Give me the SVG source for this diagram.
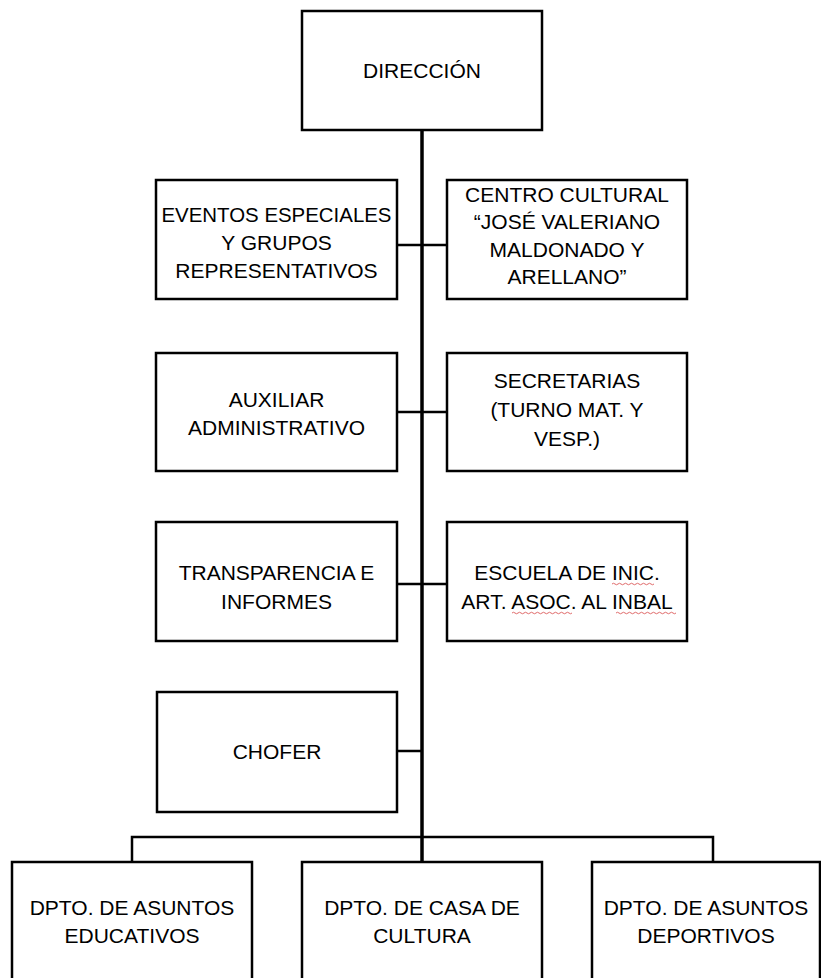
<svg xmlns="http://www.w3.org/2000/svg" width="821" height="978" viewBox="0 0 821 978">
<style>
.box{fill:#fff;stroke:#000;stroke-width:2.5}
.t{font-family:"Liberation Sans",Arial,sans-serif;font-size:21px;fill:#000;text-anchor:middle}
.c{fill:none;stroke:#000;stroke-width:2.5}
.main{fill:none;stroke:#000;stroke-width:3.5}
.sq{fill:none;stroke:#e06a6a;stroke-width:1}
</style>
<rect x="0" y="0" width="821" height="978" fill="#fff"/>
<g id="connectors">
<line class="main" x1="422" y1="130" x2="422" y2="862"/>
<line class="c" x1="397" y1="245" x2="447" y2="245"/>
<line class="c" x1="397" y1="412" x2="447" y2="412"/>
<line class="c" x1="397" y1="584" x2="447" y2="584"/>
<line class="c" x1="397" y1="751" x2="422" y2="751"/>
<polyline class="c" points="132,862 132,837 713,837 713,862"/>
</g>
<g id="direccion">
<rect class="box" x="302" y="11" width="240" height="119"/>
<text class="t" x="422" y="78">DIRECCIÓN</text>
</g>
<g id="eventos">
<rect class="box" x="156" y="180" width="241" height="119"/>
<text class="t" x="276.5" y="222" textLength="230" lengthAdjust="spacingAndGlyphs">EVENTOS ESPECIALES</text>
<text class="t" x="276.5" y="250">Y GRUPOS</text>
<text class="t" x="276.5" y="278">REPRESENTATIVOS</text>
</g>
<g id="centro">
<rect class="box" x="447" y="180" width="240" height="119"/>
<text class="t" x="567" y="202">CENTRO CULTURAL</text>
<text class="t" x="567" y="229">“JOSÉ VALERIANO</text>
<text class="t" x="567" y="257">MALDONADO Y</text>
<text class="t" x="567" y="284">ARELLANO”</text>
</g>
<g id="auxiliar">
<rect class="box" x="156" y="353" width="241" height="118"/>
<text class="t" x="276.5" y="407">AUXILIAR</text>
<text class="t" x="276.5" y="435">ADMINISTRATIVO</text>
</g>
<g id="secretarias">
<rect class="box" x="447" y="353" width="240" height="118"/>
<text class="t" x="567" y="388">SECRETARIAS</text>
<text class="t" x="567" y="417">(TURNO MAT. Y</text>
<text class="t" x="567" y="446">VESP.)</text>
</g>
<g id="transparencia">
<rect class="box" x="156" y="522" width="241" height="119"/>
<text class="t" x="276.5" y="580">TRANSPARENCIA E</text>
<text class="t" x="276.5" y="609">INFORMES</text>
</g>
<g id="escuela">
<rect class="box" x="447" y="522" width="240" height="119"/>
<text class="t" x="567" y="580">ESCUELA DE INIC.</text>
<text class="t" x="567" y="609">ART. ASOC. AL INBAL</text>
<path class="sq" d="M612 584 q1.5 -1.5 3 0 t3 0 t3 0 t3 0 t3 0 t3 0 t3 0 t3 0 t3 0 t3 0 t3 0 t3 0 t3 0 t3 0"/>
<path class="sq" d="M512 613 q1.5 -1.5 3 0 t3 0 t3 0 t3 0 t3 0 t3 0 t3 0 t3 0 t3 0 t3 0 t3 0 t3 0 t3 0 t3 0 t3 0 t3 0 t3 0 t3 0 t3 0 t3 0"/>
<path class="sq" d="M616 613 q1.5 -1.5 3 0 t3 0 t3 0 t3 0 t3 0 t3 0 t3 0 t3 0 t3 0 t3 0 t3 0 t3 0 t3 0 t3 0 t3 0 t3 0 t3 0 t3 0 t3 0 t3 0"/>
</g>
<g id="chofer">
<rect class="box" x="157" y="692" width="240" height="120"/>
<text class="t" x="277" y="759">CHOFER</text>
</g>
<g id="dpto-educativos">
<rect class="box" x="12" y="862" width="240" height="130"/>
<text class="t" x="132" y="915">DPTO. DE ASUNTOS</text>
<text class="t" x="132" y="943">EDUCATIVOS</text>
</g>
<g id="dpto-cultura">
<rect class="box" x="302" y="862" width="240" height="130"/>
<text class="t" x="422" y="915">DPTO. DE CASA DE</text>
<text class="t" x="422" y="943">CULTURA</text>
</g>
<g id="dpto-deportivos">
<rect class="box" x="592" y="862" width="228" height="130"/>
<text class="t" x="706" y="915">DPTO. DE ASUNTOS</text>
<text class="t" x="706" y="943">DEPORTIVOS</text>
</g>
</svg>
